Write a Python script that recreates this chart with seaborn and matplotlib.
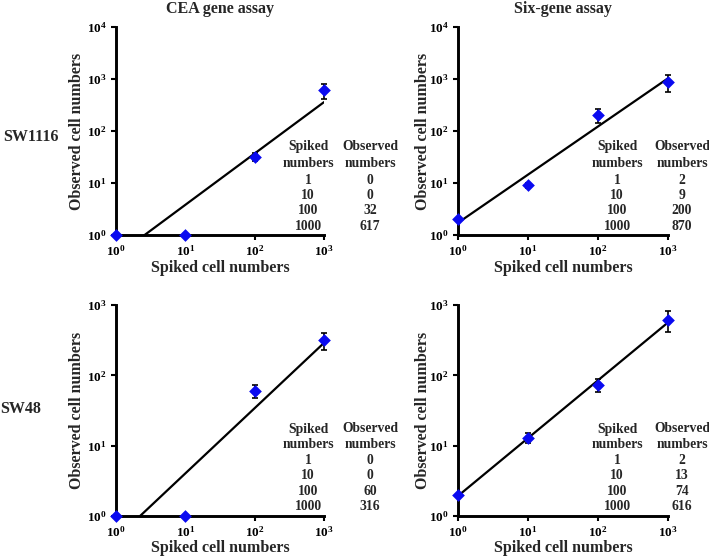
import numpy as np
import pandas as pd
import matplotlib
matplotlib.use("Agg")
import matplotlib.pyplot as plt
import matplotlib.ticker as mticker
import seaborn as sns

# ---------------- data ----------------
spiked = [1, 10, 100, 1000]
col_titles = ["CEA gene assay", "Six-gene assay"]
row_labels = ["SW1116", "SW48"]

obs_sw1116_cea = [0, 0, 32, 617]
err_sw1116_cea = [0, 0, 6, 200]
obs_sw1116_six = [2, 9, 200, 870]
err_sw1116_six = [0, 1, 60, 310]
obs_sw48_cea = [0, 0, 60, 316]
err_sw48_cea = [0, 0, 12, 90]
obs_sw48_six = [2, 13, 74, 616]
err_sw48_six = [0, 2, 16, 200]

ymax_exp = [[4, 4], [3, 3]]

xlabel = "Spiked cell numbers"
ylabel = "Observed cell numbers"
table_head = [["Spiked", "numbers"], ["Observed", "numbers"]]

# ---------------- style ----------------
sns.set_style("ticks")
plt.rcParams["font.family"] = ["Liberation Serif", "DejaVu Serif"]
plt.rcParams["font.weight"] = "bold"
plt.rcParams["mathtext.fontset"] = "custom"
plt.rcParams["mathtext.rm"] = "Liberation Serif:bold"
plt.rcParams["mathtext.it"] = "Liberation Serif:bold"
plt.rcParams["mathtext.bf"] = "Liberation Serif:bold"
plt.rcParams["mathtext.default"] = "rm"

W, H = 709, 558
fig = plt.figure(figsize=(W / 100, H / 100), dpi=100)

# axes rectangles in pixels (left, top, right, bottom)
rects = [[(116, 27, 324, 235), (458, 27, 668, 235)],
         [(116, 305, 324, 516), (458, 305, 668, 516)]]
# table line centres (pixels below axes top)
table_rows = [[120, 137, 153, 169, 184, 200],
              [124, 139, 155, 170.5, 186.5, 202]]
table_cols = [[308, 370], [617, 682]]
xlabel_y = [268, 548]

obs_all = [[obs_sw1116_cea, obs_sw1116_six], [obs_sw48_cea, obs_sw48_six]]
err_all = [[err_sw1116_cea, err_sw1116_six], [err_sw48_cea, err_sw48_six]]

blue = "#0a0af0"

for r in range(2):
    for c in range(2):
        l, t, rr, b = rects[r][c]
        ax = fig.add_axes([l / W, 1 - b / H, (rr - l) / W, (b - t) / H])
        obs = np.array(obs_all[r][c], dtype=float)
        err = np.array(err_all[r][c], dtype=float)
        plotted = np.where(obs > 0, obs, 1.0)
        x = np.array(spiked, dtype=float)

        # power-law trend line fitted on the plotted values
        slope, inter = np.polyfit(np.log10(x), np.log10(plotted), 1)
        xf = np.logspace(0, 3, 60)
        fit_df = pd.DataFrame({"x": xf, "y": 10 ** (inter + slope * np.log10(xf))})
        sns.lineplot(data=fit_df, x="x", y="y", ax=ax, color="black", lw=1.6,
                     zorder=2)

        ax.errorbar(x, plotted, yerr=np.where(err > 0, err, np.nan), fmt="none",
                    ecolor="black", elinewidth=1.2, capsize=2.5, capthick=1.2,
                    zorder=3, clip_on=False)
        df = pd.DataFrame({"x": x, "y": plotted})
        sns.scatterplot(data=df, x="x", y="y", ax=ax, marker="D", s=42,
                        color=blue, edgecolor=blue, linewidth=0, zorder=4,
                        clip_on=False)

        ax.set_xscale("log")
        ax.set_yscale("log")
        ax.set_xlim(1, 1000)
        ax.set_ylim(1, 10 ** ymax_exp[r][c])
        ax.xaxis.set_major_locator(mticker.LogLocator(base=10, numticks=10))
        ax.yaxis.set_major_locator(mticker.LogLocator(base=10, numticks=10))
        ax.xaxis.set_minor_locator(mticker.NullLocator())
        ax.yaxis.set_minor_locator(mticker.NullLocator())
        fmt = mticker.FuncFormatter(lambda v, p: r"$\mathregular{10^{%d}}$" % round(np.log10(v)))
        ax.xaxis.set_major_formatter(fmt)
        ax.yaxis.set_major_formatter(fmt)
        ax.tick_params(axis="both", which="major", length=3.5, width=1.5,
                       labelsize=9.5, pad=3, colors="black")
        for sp in ["top", "right"]:
            ax.spines[sp].set_visible(False)
        for sp in ["left", "bottom"]:
            ax.spines[sp].set_linewidth(2.1)
            ax.spines[sp].set_color("black")
        ax.set_xlabel(xlabel, fontsize=11.5, fontweight="bold", va="center")
        ax.xaxis.set_label_coords(0.5, -(xlabel_y[r] - b) / (b - t))
        ax.set_ylabel(ylabel, fontsize=11.5, fontweight="bold", va="center")
        ax.yaxis.set_label_coords(-(l - (77 if c == 0 else 423)) / (rr - l), 0.5)
        if r == 0:
            ax.set_title(col_titles[c], fontsize=11.5, fontweight="bold", pad=10)

        # embedded table
        ah = b - t
        aw = rr - l
        cols = [(table_cols[c][0] - l) / aw, (table_cols[c][1] - l) / aw]
        ys = [1 - v / ah for v in table_rows[r]]
        for k in range(2):
            ax.text(cols[k], ys[0], table_head[k][0], transform=ax.transAxes,
                    ha="center", va="center", fontsize=9.8, fontweight="bold")
            ax.text(cols[k], ys[1], table_head[k][1], transform=ax.transAxes,
                    ha="center", va="center", fontsize=9.8, fontweight="bold")
        for i in range(4):
            ax.text(cols[0], ys[2 + i], str(spiked[i]), transform=ax.transAxes,
                    ha="center", va="center", fontsize=9.8, fontweight="bold")
            ax.text(cols[1], ys[2 + i], str(int(obs[i])), transform=ax.transAxes,
                    ha="center", va="center", fontsize=9.8, fontweight="bold")

fig.text(3 / W, 1 - 137 / H, row_labels[0], ha="left", va="center",
         fontsize=11.5, fontweight="bold")
fig.text(0 / W, 1 - 409 / H, row_labels[1], ha="left", va="center",
         fontsize=11.5, fontweight="bold")

fig.savefig("out.png", dpi=100, facecolor="white")
